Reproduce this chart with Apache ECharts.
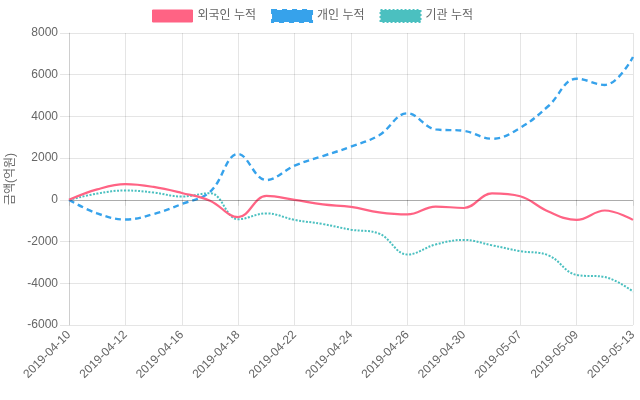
<!DOCTYPE html>
<html>
<head>
<meta charset="utf-8">
<script src="https://cdn.jsdelivr.net/npm/echarts@6/dist/echarts.min.js"></script>
<style>
html,body{margin:0;padding:0;background:#fff;}
#c{width:640px;height:400px;}
</style>
</head>
<body>
<div id="c"></div>
<script>
const dates = ['2019-04-10','2019-04-11','2019-04-12','2019-04-15','2019-04-16','2019-04-17','2019-04-18','2019-04-19','2019-04-22','2019-04-23','2019-04-24','2019-04-25','2019-04-26','2019-04-29','2019-04-30','2019-05-02','2019-05-07','2019-05-08','2019-05-09','2019-05-10','2019-05-13'];
const foreign = [0, 500, 750, 620, 330, -40, -830, 190, 0, -220, -340, -600, -700, -320, -390, 310, 170, -560, -960, -510, -960];
const individual = [0, -650, -940, -680, -200, 380, 2200, 950, 1640, 2100, 2550, 3100, 4150, 3380, 3310, 2930, 3450, 4500, 5810, 5510, 6850];
const institution = [0, 300, 450, 350, 160, 320, -930, -650, -960, -1160, -1430, -1620, -2620, -2140, -1920, -2180, -2460, -2660, -3600, -3700, -4400];
const seriesNames = ['외국인 누적', '개인 누적', '기관 누적'];
const yName = '금액(억원)';

const FONT = '"Liberation Sans", Arial, "Noto Sans CJK KR", sans-serif';
const cRed = 'rgb(255,99,132)', cBlue = 'rgb(54,162,235)', cTeal = 'rgb(75,192,192)';
const gridC = 'rgba(0,0,0,0.1)';

const chart = echarts.init(document.getElementById('c'), null, {renderer: 'canvas'});
chart.setOption({
  animation: false,
  textStyle: {fontFamily: FONT},
  legend: {
    top: 4, left: 147, icon: 'rect', itemWidth: 40, itemHeight: 12, itemGap: 15,
    textStyle: {color: '#666', fontSize: 12, fontFamily: FONT},
    data: [
      {name: seriesNames[0], itemStyle: {color: cRed, borderColor: cRed, borderWidth: 1}},
      {name: seriesNames[1], itemStyle: {color: cBlue, borderColor: cBlue, borderWidth: 2, borderType: [5,5]}},
      {name: seriesNames[2], itemStyle: {color: cTeal, borderColor: cTeal, borderWidth: 2, borderType: [2,2]}}
    ]
  },
  grid: {left: 69, right: 7, top: 33, bottom: 75, containLabel: false, outerBoundsMode: 'none'},
  xAxis: {
    type: 'category', data: dates, boundaryGap: false,
    axisLine: {show: false},
    axisTick: {show: true, interval: 1, length: 6, lineStyle: {color: gridC}},
    axisLabel: {interval: 1, rotate: 45, color: '#666', fontSize: 12, margin: 8, fontFamily: FONT},
    splitLine: {show: true, interval: 1, lineStyle: {color: gridC}}
  },
  yAxis: {
    type: 'value', min: -6000, max: 8000, interval: 2000,
    name: yName, nameLocation: 'middle', nameRotate: 90, nameGap: 46,
    nameTextStyle: {color: '#666', fontSize: 12, fontFamily: FONT},
    axisLine: {show: true, lineStyle: {color: gridC}},
    axisTick: {show: true, length: 9, lineStyle: {color: gridC}},
    axisLabel: {color: '#666', fontSize: 12, margin: 11, fontFamily: FONT, formatter: v => String(v)},
    splitLine: {show: true, lineStyle: {color: gridC}}
  },
  series: [
    {name: seriesNames[0], type: 'line', data: foreign, smooth: 0.4, showSymbol: false, symbol: 'none',
     itemStyle: {color: cRed}, lineStyle: {color: cRed, width: 2.2}, z: 3},
    {name: seriesNames[1], type: 'line', data: individual, smooth: 0.4, showSymbol: false, symbol: 'none',
     itemStyle: {color: cBlue}, lineStyle: {color: cBlue, width: 2.4, type: [6,4]}, z: 2},
    {name: seriesNames[2], type: 'line', data: institution, smooth: 0.4, showSymbol: false, symbol: 'none',
     itemStyle: {color: cTeal}, lineStyle: {color: cTeal, width: 2, type: [2,1.5]}, z: 1,
     markLine: {silent: true, symbol: 'none', label: {show: false}, lineStyle: {color: 'rgba(0,0,0,0.25)', type: 'solid', width: 1}, data: [{yAxis: 0}]}}
  ]
});
</script>
</body>
</html>
